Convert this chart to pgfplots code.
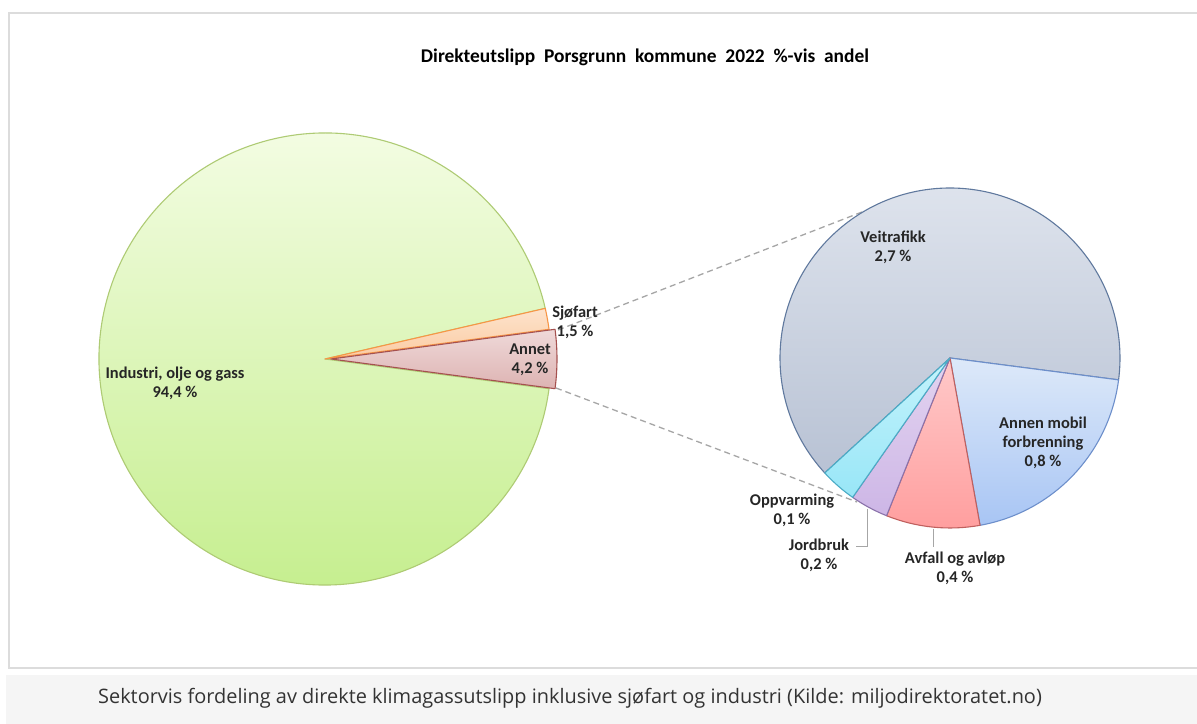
\documentclass[border=0pt]{standalone}
\usepackage{fontspec}
\setmainfont{Carlito}
\newfontfamily\capfont{Open Sans}
\usepackage{pgfplots}
\pgfplotsset{compat=1.18}

\definecolor{bordergray}{HTML}{DCDCDC}
\definecolor{bandgray}{HTML}{F5F5F5}
\definecolor{conn}{HTML}{A6A6A6}
\definecolor{indTop}{HTML}{F5FDE6}
\definecolor{indBot}{HTML}{C4EE8C}
\definecolor{indEdge}{HTML}{AECB74}
\definecolor{sjoTop}{HTML}{FDE3CC}
\definecolor{sjoBot}{HTML}{FBCBA2}
\definecolor{sjoEdge}{HTML}{F79646}
\definecolor{annTop}{HTML}{EFD9D9}
\definecolor{annBot}{HTML}{DDB3B2}
\definecolor{annEdge}{HTML}{A5514F}
\definecolor{veiTop}{HTML}{E0E5EE}
\definecolor{veiBot}{HTML}{B8C2D4}
\definecolor{veiEdge}{HTML}{60799E}
\definecolor{mobTop}{HTML}{DDE9F9}
\definecolor{mobBot}{HTML}{A8C5F4}
\definecolor{mobEdge}{HTML}{6D8FCB}
\definecolor{avfTop}{HTML}{FFC9C9}
\definecolor{avfBot}{HTML}{FF9E9E}
\definecolor{avfEdge}{HTML}{C0605E}
\definecolor{jorTop}{HTML}{E3D4F0}
\definecolor{jorBot}{HTML}{CDB6E6}
\definecolor{jorEdge}{HTML}{8A72AA}
\definecolor{oppTop}{HTML}{C4F3FC}
\definecolor{oppBot}{HTML}{98E6F7}
\definecolor{oppEdge}{HTML}{4BACC6}

% ---- data (percent) ----
\def\vInd{94.4}\def\vSjo{1.5}\def\vAnn{4.2}
\def\vVei{2.683}\def\vMob{0.845}\def\vAvf{0.3745}\def\vJor{0.152}\def\vOpp{0.146}

% main pie angles
\pgfmathsetmacro\Tmain{\vInd+\vSjo+\vAnn}
\pgfmathsetmacro\aAnnS{-0.5*\vAnn/\Tmain*360}
\pgfmathsetmacro\aAnnE{0.5*\vAnn/\Tmain*360}
\pgfmathsetmacro\aSjoE{\aAnnE+\vSjo/\Tmain*360}
\pgfmathsetmacro\aIndE{\aSjoE+\vInd/\Tmain*360}
% second pie angles (clockwise from -7.4)
\pgfmathsetmacro\Tsub{\vVei+\vMob+\vAvf+\vJor+\vOpp}
\def\bStart{-7.4}
\pgfmathsetmacro\bMob{\bStart-\vMob/\Tsub*360}
\pgfmathsetmacro\bAvf{\bMob-\vAvf/\Tsub*360}
\pgfmathsetmacro\bJor{\bAvf-\vJor/\Tsub*360}
\pgfmathsetmacro\bOpp{\bJor-\vOpp/\Tsub*360}
\pgfmathsetmacro\bVei{\bOpp-\vVei/\Tsub*360}

% geometry (pixel-like units, y upward)
\def\cxA{325}\def\cyA{365}\def\rA{226}
\def\cxB{950}\def\cyB{366}\def\rB{170}

\newcommand{\slice}[8]{% cx cy r a1 a2 top bottom edge
  \shadedraw[top color=#6,bottom color=#7,draw=#8,line width=1.1bp,line join=round]
   (axis cs:#1,#2) -- (axis cs:{#1+#3*cos(#4)},{#2+#3*sin(#4)})
   arc[start angle=#4,end angle=#5,radius=#3bp] -- cycle;}

\begin{document}
\begin{tikzpicture}
\begin{axis}[x=1bp,y=1bp,xmin=0,xmax=1197,ymin=0,ymax=724,
  hide axis,clip=false,disabledatascaling]
\coordinate (BL) at (axis cs:0,0);
\coordinate (TR) at (axis cs:1197,724);
\fill[white] (axis cs:0,0) rectangle (axis cs:1197,724);
\draw[bordergray,line width=1.5bp] (axis cs:9,711) rectangle (axis cs:1205,56);
\fill[bandgray] (axis cs:6,0) rectangle (axis cs:1197,49);
\node[font=\capfont\fontsize{20}{22}\selectfont,text=black!80] at (axis cs:570,26) {Sektorvis fordeling av direkte klimagassutslipp inklusive sjøfart og industri (Kilde: miljodirektoratet.no)};

% title
\node[font=\bfseries\fontsize{19.5}{22}\selectfont,text=black] at (axis cs:645,667) {Direkteutslipp\ \ Porsgrunn\ \ kommune\ \ 2022\ \ \%-vis\ \ andel};

% connectors
\draw[conn,dashed,dash pattern=on 6bp off 4bp,line width=1.3bp] (axis cs:558,394) -- (axis cs:862,512);
\draw[conn,dashed,dash pattern=on 6bp off 4bp,line width=1.3bp] (axis cs:556,336) -- (axis cs:857,222);

% main pie
\slice{\cxA}{\cyA}{\rA}{\aSjoE}{\aIndE}{indTop}{indBot}{indEdge}
\slice{\cxA}{\cyA}{\rA}{\aAnnE}{\aSjoE}{sjoTop}{sjoBot}{sjoEdge}
\slice{331}{\cyA}{\rA}{\aAnnS}{\aAnnE}{annTop}{annBot}{annEdge}

% second pie
\slice{\cxB}{\cyB}{\rB}{\bOpp}{\bVei}{veiTop}{veiBot}{veiEdge}
\slice{\cxB}{\cyB}{\rB}{\bStart}{\bMob}{mobTop}{mobBot}{mobEdge}
\slice{\cxB}{\cyB}{\rB}{\bMob}{\bAvf}{avfTop}{avfBot}{avfEdge}
\slice{\cxB}{\cyB}{\rB}{\bAvf}{\bJor}{jorTop}{jorBot}{jorEdge}
\slice{\cxB}{\cyB}{\rB}{\bJor}{\bOpp}{oppTop}{oppBot}{oppEdge}

% leader lines
\draw[conn,line width=1bp] (axis cs:867,215) -- (axis cs:867,177) -- (axis cs:856,177);
\draw[conn,line width=1bp] (axis cs:933,195) -- (axis cs:933,177);

% labels
\tikzset{lab/.style={font=\bfseries\fontsize{16.5}{19}\selectfont,align=center,text=black!85,inner sep=1bp}}
\node[lab] at (axis cs:175,341) {Industri, olje og gass\\94,4 \%};
\node[lab] at (axis cs:575,402) {Sjøfart\\1,5 \%};
\node[lab] at (axis cs:530,364) {Annet\\4,2 \%};
\node[lab] at (axis cs:893,477) {Veitrafikk\\2,7 \%};
\node[lab] at (axis cs:1043,281) {Annen mobil\\forbrenning\\0,8 \%};
\node[lab] at (axis cs:792,214) {Oppvarming\\0,1 \%};
\node[lab] at (axis cs:819,169) {Jordbruk\\0,2 \%};
\node[lab] at (axis cs:955,156) {Avfall og avløp\\0,4 \%};
\end{axis}
\pgfresetboundingbox
\path (BL) rectangle (TR);
\end{tikzpicture}
\end{document}
